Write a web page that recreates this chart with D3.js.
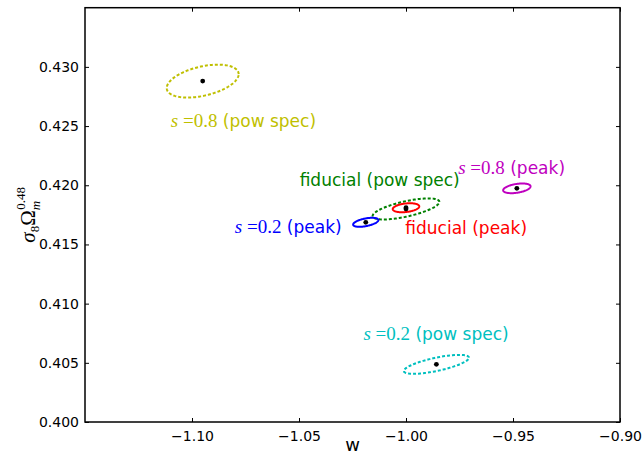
<!DOCTYPE html>
<html>
<head>
  <meta charset="utf-8">
  <title>w vs sigma8 Omega_m</title>
  <script src="https://d3js.org/d3.v7.min.js"></script>
  <style>
    body { margin: 0; background: #fff; }
    svg { display: block; }
  </style>
</head>
<body>

<svg id="chart"></svg>

<script>

// ellipse centres (w, sigma8 Om^0.48)
var centreW = [-1.095, -1.0, -1.0, -1.0188, -0.9482, -0.9858]
var centreS = [0.4288, 0.4180, 0.4181, 0.41687, 0.41974, 0.40487]
// half widths along w, along s, and correlation
var spreadW = [0.0168, 0.0156, 0.0062, 0.0059, 0.0064, 0.0152]
var spreadS = [0.00139, 0.00089, 0.00038, 0.00038, 0.00041, 0.00080]
var corr = [0.42, 0.67, 0.3, 0.5, 0.4, 0.7]
var colors = ['#bfbf00', '#008000', '#ff0000', '#0000ff', '#bf00bf', '#00bfbf']
var dashed = [true, true, false, false, false, true]

// labels
var labelMath = ['0.8', '', '', '0.2', '0.8', '0.2']
var labelText = ['(pow spec)', 'fiducial (pow spec)', 'fiducial (peak)', '(peak)', '(peak)', '(pow spec)']
var labelW = [-1.1099, -1.0497, -1.0003, -1.080, -0.9756, -1.0199]
var labelS = [0.42488, 0.4199, 0.41586, 0.41594, 0.42092, 0.40692]

var xTicks = [-1.10, -1.05, -1.00, -0.95, -0.90]
var yTicks = [0.400, 0.405, 0.410, 0.415, 0.420, 0.425, 0.430]

var W = 644, H = 455
var plotL = 85, plotR = 620, plotT = 7.7, plotB = 422

var svg = d3.select('#chart')
  .attr('width', W)
  .attr('height', H)

var x = d3.scaleLinear().domain([-1.15, -0.90]).range([plotL, plotR])
var y = d3.scaleLinear().domain([0.400, 0.435]).range([plotB, plotT])

var tickFont = '14px "DejaVu Sans"'

// axes, ticks pointing inward
svg.append('g')
  .attr('transform', 'translate(0,' + plotB + ')')
  .call(d3.axisBottom(x).tickValues(xTicks).tickSizeInner(-4).tickSizeOuter(0).tickPadding(6)
    .tickFormat(function(d){ return d3.format('.2f')(d).replace('-', '\u2212') }))
  .call(function(g){ g.select('.domain').remove() })
  .selectAll('text').style('font', tickFont).attr('dy', '0.95em')

svg.append('g')
  .attr('transform', 'translate(0,' + plotT + ')')
  .call(d3.axisTop(x).tickValues(xTicks).tickSizeInner(-4).tickSizeOuter(0).tickFormat(''))
  .call(function(g){ g.select('.domain').remove() })

svg.append('g')
  .attr('transform', 'translate(' + plotL + ',0)')
  .call(d3.axisLeft(y).tickValues(yTicks).tickSizeInner(-4).tickSizeOuter(0).tickPadding(6)
    .tickFormat(d3.format('.3f')))
  .call(function(g){ g.select('.domain').remove() })
  .selectAll('text').style('font', tickFont)

svg.append('g')
  .attr('transform', 'translate(' + plotR + ',0)')
  .call(d3.axisRight(y).tickValues(yTicks).tickSizeInner(-4).tickSizeOuter(0).tickFormat(''))
  .call(function(g){ g.select('.domain').remove() })

svg.selectAll('.tick line').attr('stroke', '#000').attr('stroke-width', 1)

// frame
svg.append('rect')
  .attr('x', plotL).attr('y', plotT)
  .attr('width', plotR - plotL).attr('height', plotB - plotT)
  .attr('fill', 'none').attr('stroke', '#000').attr('stroke-width', 1.5)

// ellipses
var rows = centreW.map(function(w, i){
  return {w: w, s: centreS[i], sw: spreadW[i], ss: spreadS[i], r: corr[i], c: colors[i], dash: dashed[i]}
})

var ring = d3.range(0, 361, 3).map(function(a){ return a * Math.PI / 180 })

var line = d3.line()
  .x(function(p){ return x(p[0]) })
  .y(function(p){ return y(p[1]) })

svg.selectAll('.ell')
  .data(rows)
  .enter()
  .append('path')
  .attr('class', 'ell')
  .attr('d', function(d){
    var pts = ring.map(function(t){
      return [d.w + d.sw * Math.cos(t),
              d.s + d.ss * (d.r * Math.cos(t) + Math.sqrt(1 - d.r * d.r) * Math.sin(t))]
    })
    return line(pts) + 'Z'
  })
  .attr('fill', 'none')
  .attr('stroke', function(d){ return d.c })
  .attr('stroke-width', 2)
  .attr('stroke-dasharray', function(d){ return d.dash ? '3,2' : null })

svg.selectAll('.dot')
  .data(rows)
  .enter()
  .append('circle')
  .attr('cx', function(d){ return x(d.w) })
  .attr('cy', function(d){ return y(d.s) })
  .attr('r', 2.4)
  .attr('fill', '#000')

// labels
labelText.forEach(function(t, i){
  var txt = svg.append('text')
    .attr('x', x(labelW[i]))
    .attr('y', y(labelS[i]))
    .attr('fill', colors[i])
    .style('font', '17px "DejaVu Sans"')
  if (labelMath[i]) {
    txt.append('tspan').text('s')
      .style('font', 'italic 19px "Liberation Serif"')
    txt.append('tspan').text(' =' + labelMath[i])
      .style('font', '19px "Liberation Serif"')
    txt.append('tspan').text(' ' + t)
  } else {
    txt.text(t)
  }
})

// axis titles
svg.append('text')
  .attr('x', (plotL + plotR) / 2)
  .attr('y', 451)
  .attr('text-anchor', 'middle')
  .style('font', '18px "DejaVu Sans"')
  .text('w')

var yl = svg.append('text')
  .attr('transform', 'translate(35,' + ((plotT + plotB) / 2) + ') rotate(-90)')
  .attr('text-anchor', 'middle')
  .style('font', 'italic 21px "Liberation Serif"')
yl.append('tspan').text('\u03c3')
yl.append('tspan').text('8').attr('dy', 4).style('font-size', '13px').style('font-style', 'normal')
yl.append('tspan').text('\u03a9').attr('dy', -4).style('font-style', 'normal')
yl.append('tspan').text('m').attr('dy', 5).style('font-size', '13px')
yl.append('tspan').text('0.48').attr('dy', -15).attr('dx', -9).style('font-size', '13px').style('font-style', 'normal')

</script>

</body>
</html>
